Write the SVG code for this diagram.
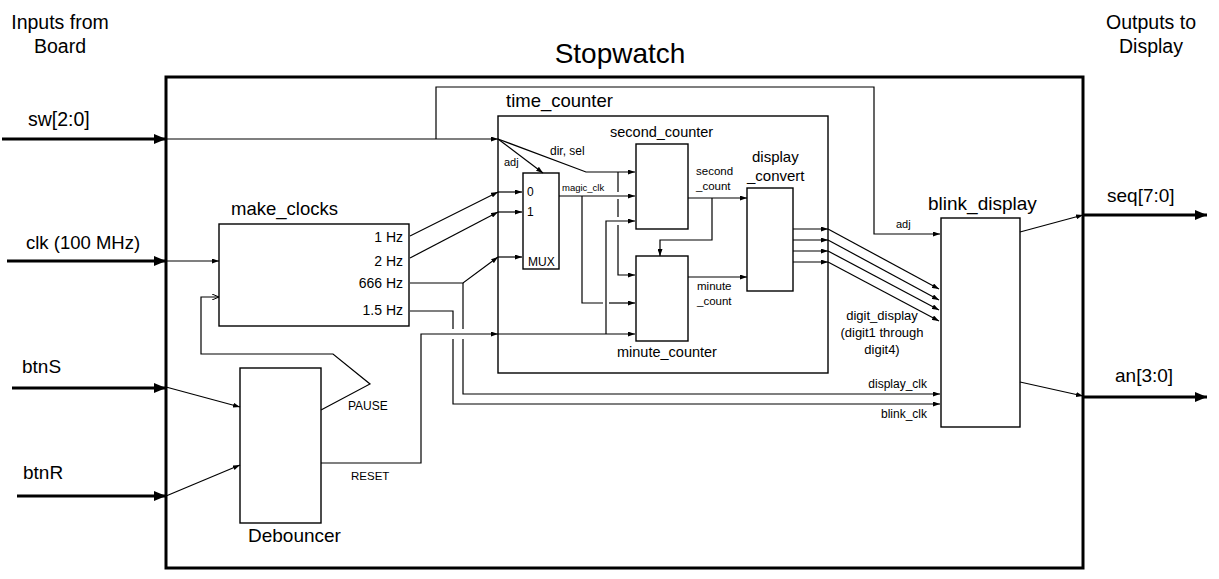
<svg xmlns="http://www.w3.org/2000/svg" width="1219" height="579" viewBox="0 0 1219 579">
<style>
text{font-family:"Liberation Sans",Arial,sans-serif;fill:#000}
.box{fill:none;stroke:#000;stroke-width:1.4}
.outer{fill:none;stroke:#000;stroke-width:3}
.w{fill:none;stroke:#000;stroke-width:1.2}
.th{fill:none;stroke:#000;stroke-width:3}
.a{marker-end:url(#arr)}
.ab{marker-end:url(#arrBig)}
.h1{font-size:19px}
.h2{font-size:14.5px}
.s{font-size:12px}
</style>
<defs>
<marker id="arr" viewBox="0 0 7 5" refX="7" refY="2.5" markerWidth="7" markerHeight="5" markerUnits="userSpaceOnUse" orient="auto" preserveAspectRatio="none"><path d="M0,0 L7,2.5 L0,5 z" fill="#000"/></marker>
<marker id="arrBig" viewBox="0 0 12 10" refX="12" refY="5" markerWidth="12" markerHeight="10" markerUnits="userSpaceOnUse" orient="auto" preserveAspectRatio="none"><path d="M0,0 L12,5 L0,10 z" fill="#000"/></marker>
<marker id="arrOpen" viewBox="0 0 7 6" refX="7" refY="3" markerWidth="7" markerHeight="6" markerUnits="userSpaceOnUse" orient="auto" preserveAspectRatio="none"><path d="M0,0 L7,3 L0,6" fill="none" stroke="#000" stroke-width="1"/></marker>
</defs>
<rect width="1219" height="579" fill="#fff"/>

<g id="io-labels">
<text x="60" y="29" font-size="19.5" text-anchor="middle">Inputs from</text>
<text x="60" y="53" font-size="19.5" text-anchor="middle">Board</text>
<text x="1151" y="29" font-size="19.5" text-anchor="middle">Outputs to</text>
<text x="1151" y="53" font-size="19.5" text-anchor="middle">Display</text>
<text x="28" y="126" font-size="19.5">sw[2:0]</text>
<text x="26" y="249" font-size="18.5">clk (100 MHz)</text>
<text x="22" y="373" font-size="19">btnS</text>
<text x="23" y="479" font-size="19">btnR</text>
<text x="1107" y="202" font-size="19">seq[7:0]</text>
<text x="1115" y="382" font-size="19">an[3:0]</text>
</g>

<g id="stopwatch">
<rect class="outer" x="166" y="77" width="917" height="491"/>
<text x="620" y="63" font-size="28" text-anchor="middle">Stopwatch</text>
</g>

<g id="make_clocks">
<rect class="box" x="219" y="224" width="190" height="102"/>
<text x="231" y="215" font-size="18.5">make_clocks</text>
<text x="403" y="242" font-size="14" text-anchor="end">1 Hz</text>
<text x="403" y="266" font-size="14" text-anchor="end">2 Hz</text>
<text x="403" y="288" font-size="14" text-anchor="end">666 Hz</text>
<text x="403" y="315" font-size="14" text-anchor="end">1.5 Hz</text>
</g>

<g id="debouncer">
<rect class="box" x="240" y="368" width="81" height="155"/>
<text x="248" y="542" font-size="19">Debouncer</text>
</g>

<g id="time_counter">
<rect class="box" x="498" y="116" width="330" height="257"/>
<text x="506" y="107" font-size="18.5">time_counter</text>
</g>

<g id="mux">
<rect class="box" x="523" y="173" width="36" height="96"/>
<text x="527" y="196" font-size="12">0</text>
<text x="527" y="216" font-size="12">1</text>
<text x="528" y="266" font-size="12">MUX</text>
</g>

<g id="second_counter">
<rect class="box" x="636" y="144" width="52" height="85"/>
<text x="610" y="137" font-size="14.5">second_counter</text>
</g>

<g id="minute_counter">
<rect class="box" x="636" y="256" width="52" height="85"/>
<text x="617" y="357" font-size="14.5">minute_counter</text>
</g>

<g id="display_convert">
<rect class="box" x="747" y="188" width="46" height="103"/>
<text x="752" y="162" font-size="15">display</text>
<text x="747" y="181" font-size="15">_convert</text>
</g>

<g id="blink_display">
<rect class="box" x="941" y="218" width="79" height="209"/>
<text x="928" y="210" font-size="19">blink_display</text>
</g>

<g id="connectors">
<!-- board inputs -->
<line class="th ab" x1="2" y1="139" x2="166" y2="139"/>
<line class="th ab" x1="7" y1="261" x2="166" y2="261"/>
<line class="th ab" x1="12" y1="388" x2="166" y2="388"/>
<line class="th ab" x1="17" y1="496" x2="166" y2="496"/>
<!-- outputs -->
<line class="th ab" x1="1083" y1="215" x2="1207" y2="215"/>
<line class="th ab" x1="1083" y1="397" x2="1207" y2="397"/>
<line class="w a" x1="1020" y1="232" x2="1083" y2="215"/>
<line class="w a" x1="1020" y1="382" x2="1083" y2="396"/>

<!-- sw -->
<line class="w a" x1="166" y1="139" x2="498" y2="139"/>
<polyline class="w a" points="436,139 436,87 874,87 874,234 940,234"/>
<text x="896" y="228" font-size="11">adj</text>
<line class="w a" x1="498" y1="139" x2="543" y2="173"/>
<text x="504" y="166" font-size="11">adj</text>
<polyline class="w a" points="498,139 586,172 635,172"/>
<text x="550" y="155" font-size="12">dir, sel</text>
<polyline class="w" points="618,172 618,192"/>
<polyline class="w" points="618,199 618,217"/>
<polyline class="w a" points="618,225 618,275 635,275"/>

<!-- clk -->
<line class="w a" x1="166" y1="261" x2="219" y2="261"/>

<!-- clocks to mux -->
<line class="w a" x1="410" y1="236" x2="498" y2="192"/>
<line class="w a" x1="498" y1="192" x2="522" y2="192"/>
<line class="w a" x1="410" y1="258" x2="498" y2="212"/>
<line class="w a" x1="498" y1="212" x2="522" y2="212"/>
<polyline class="w a" points="410,283 463,283 498,257"/>
<line class="w a" x1="498" y1="257" x2="522" y2="257"/>

<!-- display_clk / blink_clk -->
<line class="w" x1="463" y1="283" x2="463" y2="329"/>
<polyline class="w a" points="463,339 463,394 940,394"/>
<polyline class="w" points="410,311 453,311 453,329"/>
<polyline class="w a" points="453,339 453,404 940,404"/>
<text x="927" y="388" font-size="12" text-anchor="end">display_clk</text>
<text x="927" y="418" font-size="12" text-anchor="end">blink_clk</text>

<!-- magic_clk -->
<line class="w a" x1="559" y1="196" x2="635" y2="196"/>
<text x="562" y="191" font-size="9.5">magic_clk</text>
<polyline class="w" points="582,196 582,303 603,303"/>
<line class="w a" x1="609" y1="303" x2="635" y2="303"/>

<!-- debouncer -->
<line class="w a" x1="166" y1="387" x2="240" y2="407"/>
<line class="w a" x1="166" y1="496" x2="240" y2="465"/>
<polyline class="w" points="321,410 370,384 333,354 201,354 201,297 219,297" marker-end="url(#arrOpen)"/>
<text x="348" y="410" font-size="12">PAUSE</text>
<polyline class="w a" points="321,463 421,463 421,334 498,334"/>
<line class="w a" x1="498" y1="334" x2="635" y2="334"/>
<polyline class="w a" points="606,334 606,221 635,221"/>
<text x="351" y="480" font-size="11.5">RESET</text>

<!-- counts -->
<line class="w a" x1="688" y1="198" x2="747" y2="198"/>
<polyline class="w a" points="712,198 712,240 660,240 660,256"/>
<text x="696" y="175" font-size="11.5">second</text>
<text x="696" y="190" font-size="11.5">_count</text>
<line class="w a" x1="688" y1="277" x2="747" y2="277"/>
<text x="697" y="290" font-size="11.5">minute</text>
<text x="697" y="305" font-size="11.5">_count</text>

<!-- digit display -->
<line class="w a" x1="793" y1="229" x2="828" y2="229"/>
<line class="w a" x1="793" y1="240" x2="828" y2="240"/>
<line class="w a" x1="793" y1="251" x2="828" y2="251"/>
<line class="w a" x1="793" y1="262" x2="828" y2="262"/>
<line class="w a" x1="828" y1="229" x2="939" y2="289"/>
<line class="w a" x1="828" y1="240" x2="939" y2="300"/>
<line class="w a" x1="828" y1="251" x2="939" y2="310"/>
<line class="w a" x1="828" y1="262" x2="939" y2="321"/>
<text x="882" y="320" font-size="13" text-anchor="middle">digit_display</text>
<text x="882" y="337" font-size="13" text-anchor="middle">(digit1 through</text>
<text x="882" y="354" font-size="13" text-anchor="middle">digit4)</text>
</g>
</svg>
